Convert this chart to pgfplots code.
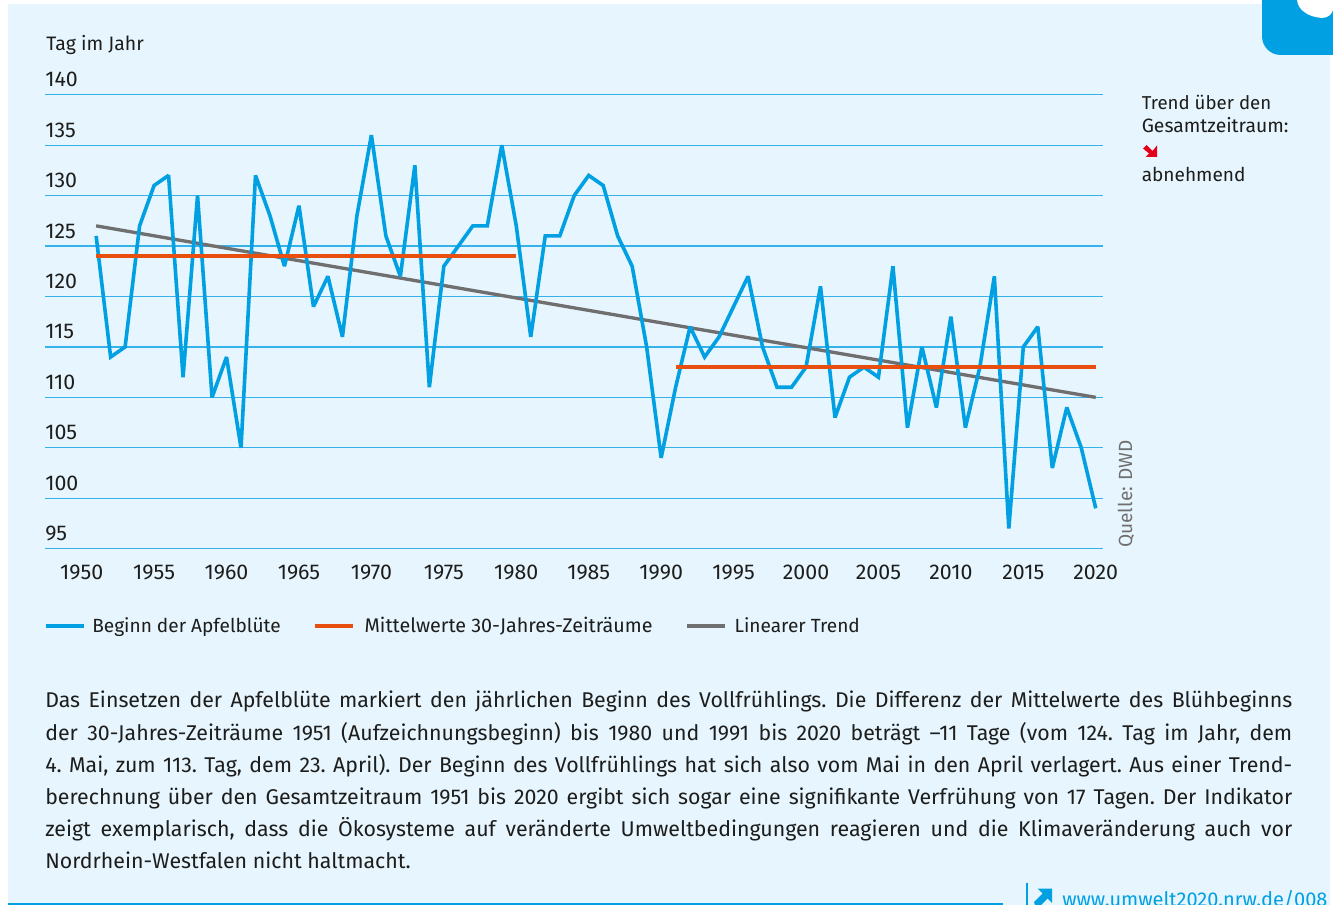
\documentclass[border=0pt]{standalone}
\usepackage{pgfplots}
\pgfplotsset{compat=1.18}
\usepackage{fontspec}
\setmainfont{Fira Sans}
\definecolor{panel}{HTML}{E6F5FE}
\definecolor{lblue}{HTML}{00A0E3}
\definecolor{gridb}{HTML}{35B2EA}
\definecolor{lorange}{HTML}{E84E0F}
\definecolor{lgrey}{HTML}{706F6F}
\definecolor{ared}{HTML}{E3001B}
\definecolor{txt}{HTML}{1D1D1B}
\pgfplotstableread{
year value
1951 126
1952 114
1953 115
1954 127
1955 131
1956 132
1957 112
1958 130
1959 110
1960 114
1961 105
1962 132
1963 128
1964 123
1965 129
1966 119
1967 122
1968 116
1969 128
1970 136
1971 126
1972 122
1973 133
1974 111
1975 123
1976 125
1977 127
1978 127
1979 135
1980 127
1981 116
1982 126
1983 126
1984 130
1985 132
1986 131
1987 126
1988 123
1989 115
1990 104
1991 111
1992 117
1993 114
1994 116
1995 119
1996 122
1997 115
1998 111
1999 111
2000 113
2001 121
2002 108
2003 112
2004 113
2005 112
2006 123
2007 107
2008 115
2009 109
2010 118
2011 107
2012 113
2013 122
2014 97
2015 115
2016 117
2017 103
2018 109
2019 105
2020 99
}\bloom
\begin{document}
\begin{tikzpicture}[x=0.75pt,y=-0.75pt,every node/.style={text=txt,font=\fontsize{14.3}{18}\selectfont}]
\path[use as bounding box] (0,0) rectangle (1333,905);
\fill[panel] (8,4) rectangle (1330,905);
% top-right tab
\begin{scope}
\clip (0,0) rectangle (1333,905);
\fill[lblue,rounded corners=14pt] (1262,-40) rectangle (1380,55);
\fill[white] (1297,0) .. controls (1298,10) and (1308,17) .. (1322,18) .. controls (1328,18) and (1332,14) .. (1333,10) -- (1333,0) -- cycle;
\end{scope}
\begin{axis}[
  at={(33.75pt,-411.525pt)},anchor=south west,
  scale only axis,width=793.5pt,height=340.5pt,
  xmin=1947.47,xmax=2020.5,ymin=95,ymax=140,
  xtick={1950,1955,...,2020},ytick={95,100,...,140},
  axis line style={draw=none},
  major tick length=0pt,
  ymajorgrids,
  grid style={gridb,line width=0.9pt},
  clip=false,
  /pgf/number format/1000 sep={},
  /pgf/number format/assume math mode=true,
  xticklabel style={font=\fontsize{16}{18}\selectfont,text=txt,inner sep=0pt,anchor=center,yshift=-17.5pt},
  yticklabel style={font=\fontsize{16}{18}\selectfont,text=txt,inner sep=0pt,anchor=base west,yshift=6pt,xshift=0pt},
  legend columns=3,
  legend cell align=left,
  legend style={at={(-1.0pt,-0.17)},anchor=west,draw=none,fill=none,inner sep=0pt,outer sep=0pt,
    font=\fontsize{14.3}{18}\selectfont,text=txt,
    /tikz/every even column/.append style={column sep=24.5pt},
    nodes={inner sep=0pt}},
  legend image code/.code={\draw[#1,line width=3pt] (0pt,0pt) -- (28.5pt,0pt);},
]
\addplot[lgrey,line width=2.5pt,forget plot] coordinates {(1951,127) (2020,110)};
\addplot[lblue,line width=2.7pt,miter limit=2,line join=miter] table[x=year,y=value] {\bloom};
\addlegendentry{\hspace{5pt}Beginn der Apfelblüte\hspace{2pt}}
\addplot[lorange,line width=2.7pt] coordinates {(1951,124) (1980,124)};
\addlegendentry{\hspace{7pt}\fontsize{14.8}{18}\selectfont Mittelwerte 30-Jahres-Zeiträume\hspace{10pt}}
\addplot[lorange,line width=2.7pt,forget plot] coordinates {(1991,113) (2020,113)};
\addlegendimage{lgrey,line width=2.5pt}
\addlegendentry{\hspace{5.5pt}Linearer Trend}
\end{axis}
\node[anchor=base west,inner sep=0pt,font=\fontsize{14.6}{18}\selectfont] at (46,51) {Tag im Jahr};
\node[anchor=base west,inner sep=0pt,rotate=90,text=lgrey] at (1132,548) {Quelle: DWD};
\node[anchor=base west,inner sep=0pt,font=\fontsize{14}{18}\selectfont] at (1141.5,109.5) {Trend über den};
\node[anchor=base west,inner sep=0pt,font=\fontsize{14.5}{18}\selectfont] at (1141.5,133) {Gesamtzeitraum:};
\fill[ared] (1157,145.5) -- (1157,157) -- (1145.5,157) -- (1149,153.5) -- (1143,148.5) -- (1146.5,145) -- (1152.5,151) -- cycle;
\node[anchor=base west,inner sep=0pt] at (1141.5,181.5) {abnehmend};
\node[anchor=north west,inner sep=0pt,text width=935.25pt,align=justify,font=\fontsize{16}{24.15}\selectfont] at (45,691) {\frenchspacing
Das Einsetzen der Apfelblüte markiert den jährlichen Beginn des Vollfrühlings. Die Differenz der Mittelwerte des Blühbeginns\linebreak
der 30-Jahres-Zeiträume 1951 (Aufzeichnungsbeginn) bis 1980 und 1991 bis 2020 beträgt –11 Tage (vom 124. Tag im Jahr, dem\linebreak
4. Mai, zum 113. Tag, dem 23. April). Der Beginn des Vollfrühlings hat sich also vom Mai in den April verlagert. Aus einer Trend-\linebreak
berechnung über den Gesamtzeitraum 1951 bis 2020 ergibt sich sogar eine signifikante Verfrühung von 17 Tagen. Der Indikator\linebreak
zeigt exemplarisch, dass die Ökosysteme auf veränderte Umweltbedingungen reagieren und die Klimaveränderung auch vor\linebreak
Nordrhein-Westfalen nicht haltmacht.};
% bottom rule and link
\fill[lblue] (8,903) rectangle (1003,905);
\fill[lblue] (1026,883) rectangle (1028,905);
\fill[lblue] (1037.5,888.5) -- (1052,888.5) -- (1052,903) -- (1047.5,898.5) -- (1041,905) -- (1035,905) -- (1034,902) -- (1042.5,893.5) -- cycle;
\node[anchor=base west,inner sep=0pt,text=lblue,font=\fontsize{15}{18}\selectfont] at (1062,906) {www.umwelt2020.nrw.de/008};
\end{tikzpicture}
\end{document}
